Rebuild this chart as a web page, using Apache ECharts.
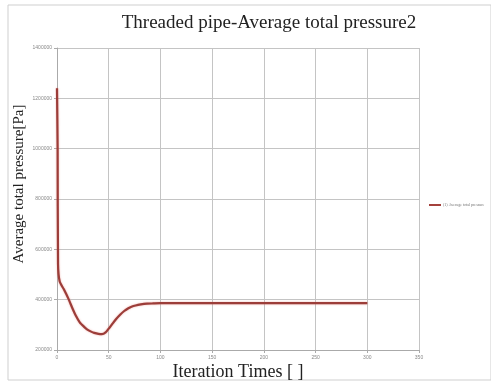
<!DOCTYPE html>
<html>
<head>
<meta charset="utf-8">
<script src="https://cdn.jsdelivr.net/npm/echarts@6/dist/echarts.min.js"></script>
<style>
  html, body { margin: 0; padding: 0; background: #fff; }
  #main { width: 491px; height: 383px; }
</style>
</head>
<body>
<div id="main"></div>
<script>
// iteration number and average total pressure
const iterations = [0, 0.6, 1, 2.6, 6.5, 11, 15, 18, 22, 26, 29, 33, 36, 40, 43.5, 47, 50, 53, 57, 61, 65, 69, 72, 76, 81, 87, 93, 100, 120, 150, 200, 250, 300]
const pressure = [1240000, 1000000, 542000, 472000, 442000, 404000, 365000, 338000, 310000, 293000, 282000, 273000, 268000, 264000, 263000, 270000, 285000, 301000, 322000, 340000, 355000, 366000, 372000, 377000, 381000, 384000, 385000, 386000, 386000, 386000, 386000, 386000, 386000]
const xTicks = [0, 50, 100, 150, 200, 250, 300, 350]
const yTicks = [200000, 400000, 600000, 800000, 1000000, 1200000, 1400000]

const chart = echarts.init(document.getElementById('main'))

const points = iterations.map((x, i) => [x, pressure[i]])

chart.setOption({
  animation: false,
  backgroundColor: '#fff',
  title: {
    text: 'Threaded pipe-Average total pressure2',
    left: 264,
    top: 9,
    textAlign: 'center',
    textStyle: {
      fontFamily: 'Liberation Serif',
      fontWeight: 'normal',
      fontSize: 19,
      color: '#222',
    },
  },
  legend: {
    left: 424,
    top: 198,
    itemWidth: 12,
    itemHeight: 2,
    itemGap: 2,
    textStyle: { fontSize: 4, color: '#777', fontFamily: 'Liberation Serif', padding: [0, 0, 0, -3] },
    data: [{ name: '(1) Average total pressure', icon: 'rect' }],
  },
  grid: {
    left: 57,
    right: 72,
    top: 48,
    bottom: 33,
    outerBoundsMode: 'none',
  },
  xAxis: {
    type: 'value',
    min: xTicks[0],
    max: xTicks[xTicks.length - 1],
    interval: 50,
    name: 'Iteration Times [ ]',
    nameLocation: 'middle',
    nameGap: 13,
    nameMoveOverlap: false,
    nameTextStyle: {
      fontFamily: 'Liberation Serif',
      fontSize: 18,
      color: '#222',
    },
    axisLine: { lineStyle: { color: '#aaa' } },
    axisTick: { show: true, length: 3, lineStyle: { color: '#aaa' } },
    axisLabel: { fontSize: 5, color: '#888', margin: 5 },
    splitLine: { show: true, lineStyle: { color: '#c4c4c4', width: 1 } },
  },
  yAxis: {
    type: 'value',
    min: yTicks[0],
    max: yTicks[yTicks.length - 1],
    interval: 200000,
    name: 'Average total pressure[Pa]',
    nameLocation: 'middle',
    nameGap: 30,
    nameMoveOverlap: false,
    nameTextStyle: {
      fontFamily: 'Liberation Serif',
      fontSize: 15,
      color: '#222',
      padding: [0, 0, 0, 30],
    },
    axisLine: { show: true, lineStyle: { color: '#aaa' } },
    axisTick: { show: true, length: 3, lineStyle: { color: '#aaa' } },
    axisLabel: { fontSize: 5, color: '#888', margin: 5, formatter: (v) => String(v) },
    splitLine: { show: true, lineStyle: { color: '#c4c4c4', width: 1 } },
  },
  series: [
    {
      name: '(1) Average total pressure',
      type: 'line',
      data: points,
      showSymbol: false,
      smooth: 0.2,
      color: '#a4413c',
      lineStyle: {
        color: '#9c3d39',
        width: 2.2,
        shadowColor: 'rgba(230,120,110,0.6)',
        shadowBlur: 2,
      },
    },
  ],
  graphic: [
    {
      type: 'rect',
      shape: { x: 8, y: 5, width: 483, height: 375 },
      style: { fill: 'none', stroke: '#cfcfcf', lineWidth: 1 },
      silent: true,
    },
  ],
})
</script>
</body>
</html>
